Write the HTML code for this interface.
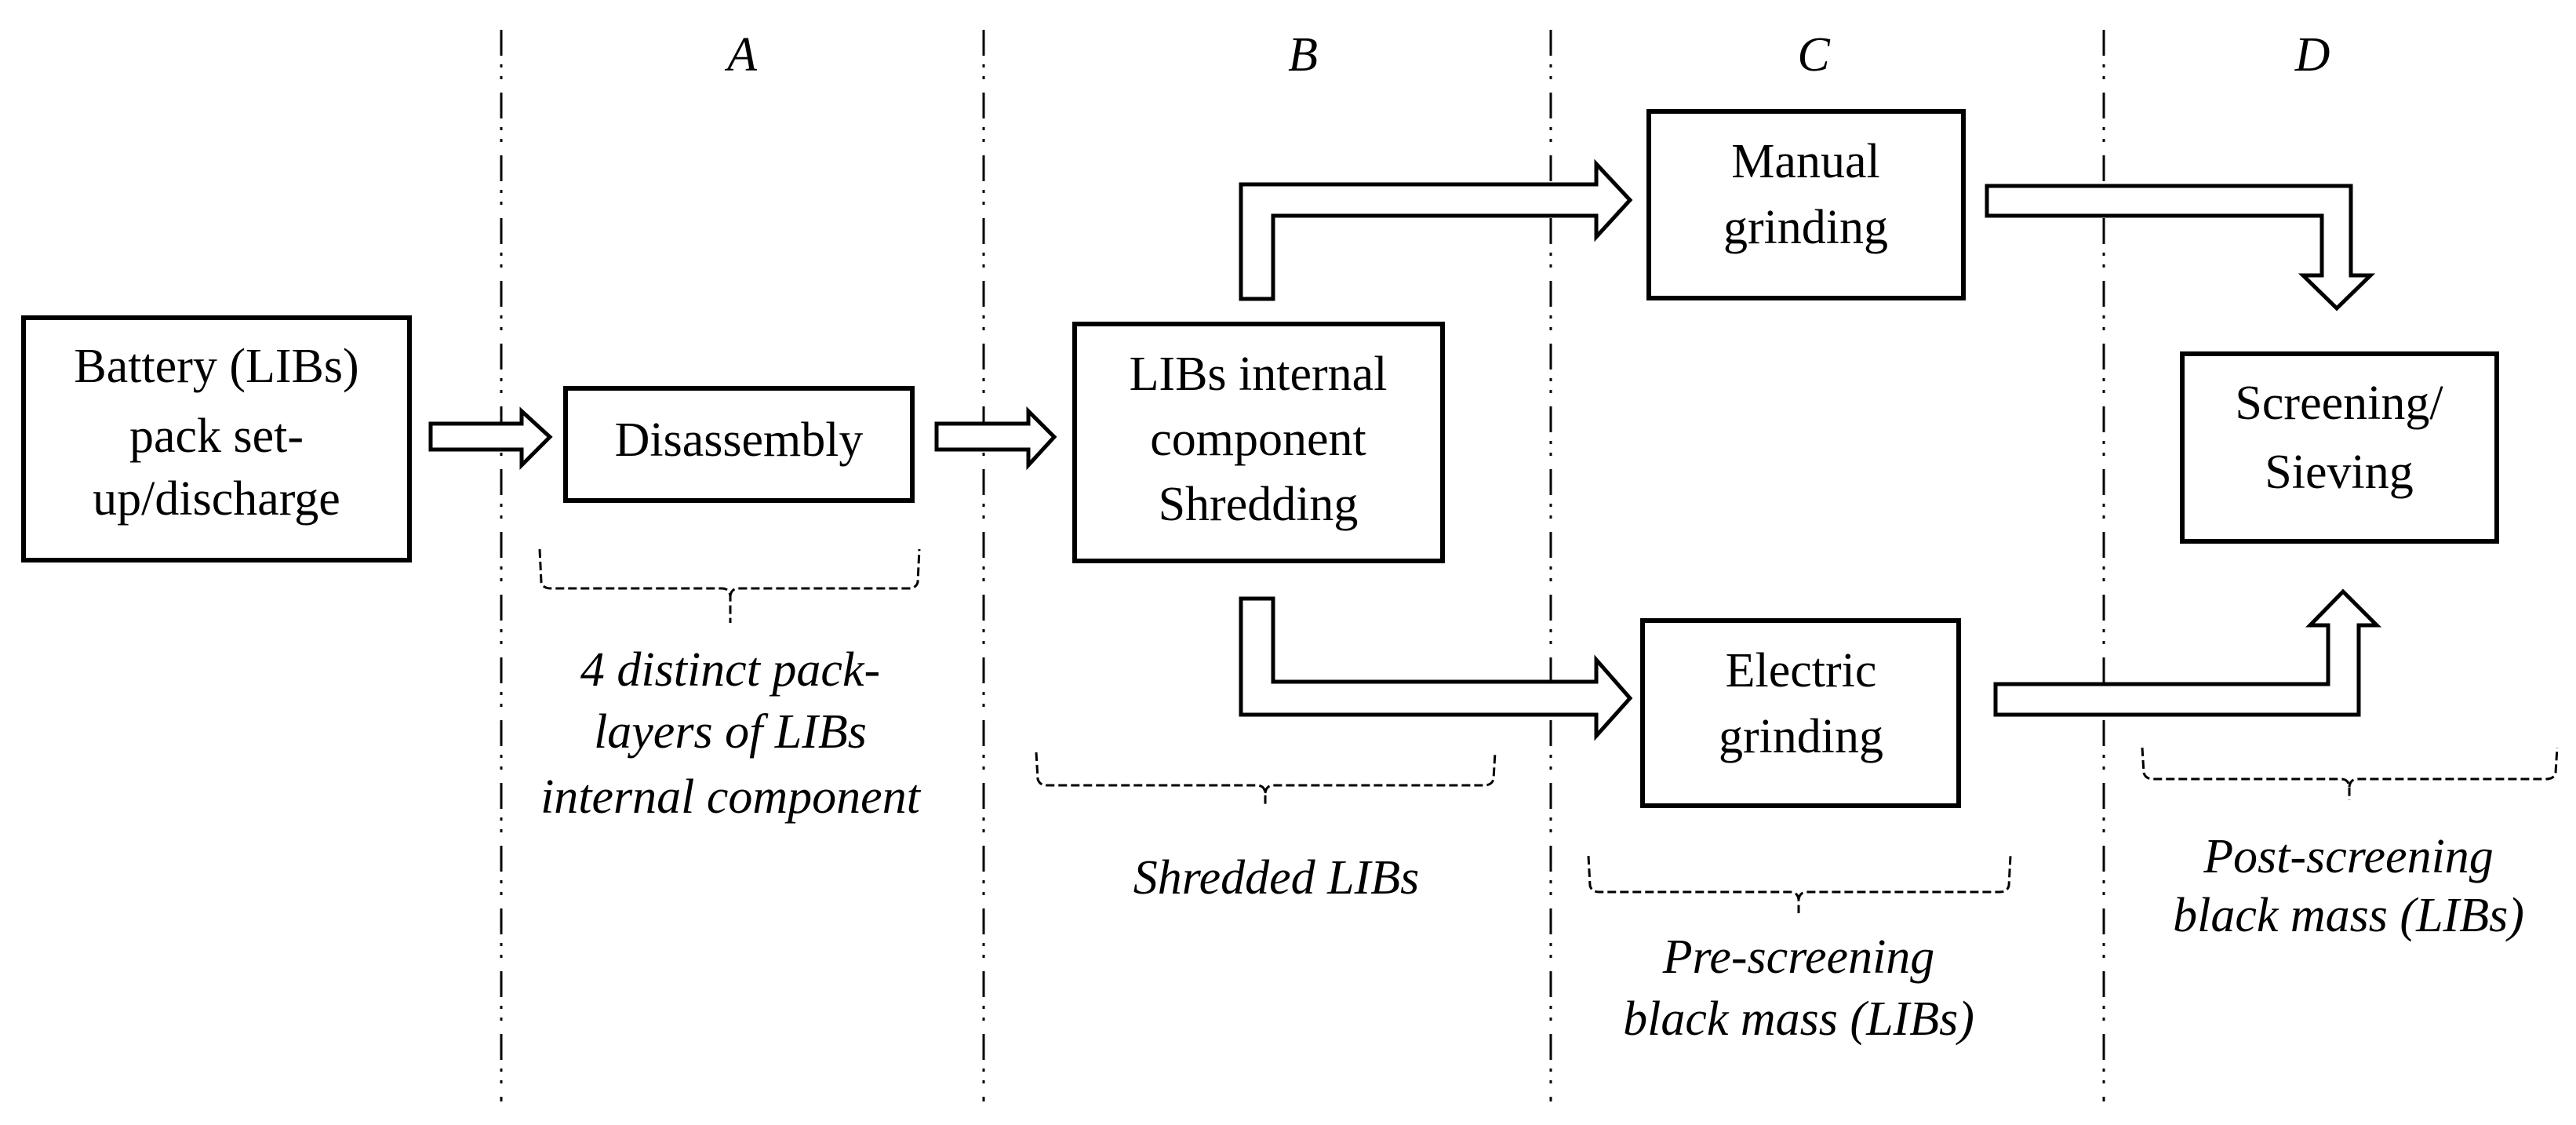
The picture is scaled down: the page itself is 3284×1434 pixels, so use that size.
<!DOCTYPE html>
<html><head><meta charset="utf-8"><style>
html,body{margin:0;padding:0;background:#fff;}
svg{display:block;}
text{font-family:"Liberation Serif",serif;fill:#000;}
.t{font-size:62px;text-anchor:middle;}
.i{font-size:62px;text-anchor:middle;font-style:italic;}
</style></head><body>
<svg width="3284" height="1434" viewBox="0 0 3284 1434" xmlns="http://www.w3.org/2000/svg">
<g stroke="#000" stroke-width="3" stroke-dasharray="33 11 4 11 4 17" fill="none">
<line x1="639" y1="38" x2="639" y2="1404"/>
<line x1="1254" y1="38" x2="1254" y2="1404"/>
<line x1="1977" y1="38" x2="1977" y2="1404"/>
<line x1="2682" y1="38" x2="2682" y2="1404"/>
</g>
<text class="i" x="946" y="90">A</text>
<text class="i" x="1661" y="90">B</text>
<text class="i" x="2312" y="90">C</text>
<text class="i" x="2948" y="90">D</text>

<g fill="#fff" stroke="#000" stroke-width="6">
<rect x="30" y="405" width="492" height="309"/>
<rect x="721" y="495" width="442" height="143"/>
<rect x="1370" y="413" width="469" height="302"/>
<rect x="2102" y="142" width="401" height="238"/>
<rect x="2094" y="791" width="403" height="236"/>
<rect x="2782" y="451" width="401" height="239"/>
</g>
<g fill="#fff" stroke="#000" stroke-width="5" stroke-linejoin="miter">
<polygon points="549,540 665,540 665,524 701,557 665,593 665,573 549,573"/>
<polygon points="1194,540 1311,540 1311,524 1344,557 1311,593 1311,573 1194,573"/>
<polygon points="1582,381 1582,235 2035,235 2035,209 2078,255 2035,302 2035,275 1623,275 1623,381"/>
<polygon points="2533,237 2997,237 2997,351 3022,351 2979,393 2936,351 2960,351 2960,275 2533,275"/>
<polygon points="1582,763 1623,763 1623,869 2035,869 2035,841 2078,890 2035,938 2035,911 1582,911"/>
<polygon points="2544,872 2968,872 2968,797 2945,797 2987,754 3030,797 3007,797 3007,911 2544,911"/>
</g>

<g class="t">
<text class="t" x="276" y="487">Battery (LIBs)</text>
<text class="t" x="276" y="576">pack set-</text>
<text class="t" x="276" y="656">up/discharge</text>
<text class="t" x="942" y="581">Disassembly</text>
<text class="t" x="1604" y="497">LIBs internal</text>
<text class="t" x="1604" y="580">component</text>
<text class="t" x="1604" y="663">Shredding</text>
<text class="t" x="2302" y="226">Manual</text>
<text class="t" x="2302" y="310">grinding</text>
<text class="t" x="2296" y="875">Electric</text>
<text class="t" x="2296" y="959">grinding</text>
<text class="t" x="2982" y="534">Screening/</text>
<text class="t" x="2982" y="622">Sieving</text>
</g>

<g fill="none" stroke="#000" stroke-width="3" stroke-dasharray="11 5">
<path d="M688 700 L690 742 Q692 750 702 750 L920 750 Q930 750 931 760 L931 794 M931 760 Q932 750 942 750 L1158 750 Q1168 750 1170 742 L1172 700"/>
<path d="M1321 959 L1323 993 Q1325 1001 1335 1001 L1602 1001 Q1612 1001 1613 1011 L1613 1026 M1613 1011 Q1614 1001 1624 1001 L1892 1001 Q1902 1001 1904 993 L1906 959"/>
<path d="M2025 1091 L2027 1129 Q2029 1137 2039 1137 L2282 1137 Q2292 1137 2293 1147 L2293 1164 M2293 1147 Q2294 1137 2304 1137 L2549 1137 Q2559 1137 2561 1129 L2563 1091"/>
<path d="M2731 953 L2733 985 Q2735 993 2745 993 L2984 993 Q2994 993 2995 1003 L2995 1020 M2995 1003 Q2996 993 3006 993 L3246 993 Q3256 993 3258 985 L3260 953"/>
</g>

<text class="i" x="931" y="874">4 distinct pack-</text>
<text class="i" x="931" y="953">layers of LIBs</text>
<text class="i" x="931" y="1036">internal component</text>
<text class="i" x="1627" y="1139">Shredded LIBs</text>
<text class="i" x="2293" y="1240">Pre-screening</text>
<text class="i" x="2293" y="1319">black mass (LIBs)</text>
<text class="i" x="2994" y="1112">Post-screening</text>
<text class="i" x="2994" y="1187">black mass (LIBs)</text>
</svg>
</body></html>
